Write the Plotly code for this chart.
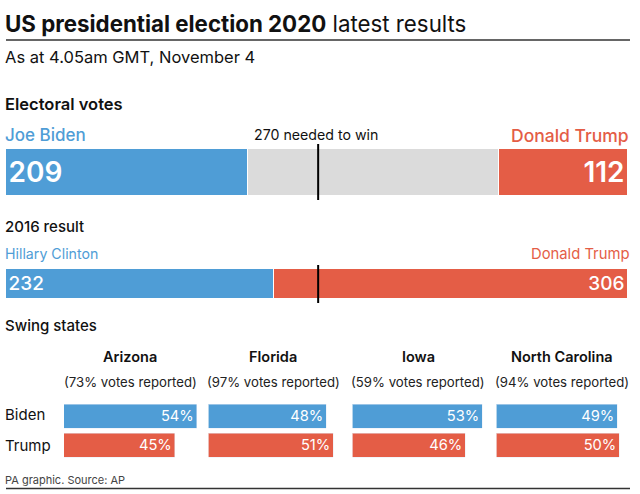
import plotly.graph_objects as go

W, H = 640, 494
BLUE, RED, GREY, INK = "#4F9DD6", "#E45D46", "#DBDBDB", "#111111"
FONT = "Inter"

elec_names = ["Joe Biden", "Undeclared", "Donald Trump"]
elec_values = [209, 217, 112]
past_names = ["Hillary Clinton", "Donald Trump"]
past_values = [232, 306]
threshold = 270
states = ["Arizona", "Florida", "Iowa", "North Carolina"]
reported = [73, 97, 59, 94]
biden_pct = [54, 48, 53, 49]
trump_pct = [45, 51, 46, 50]


def px(x):
    return x / W


def py(y):
    return 1 - y / H


fig = go.Figure()

# Electoral votes bar
for name, val, col in zip(elec_names, elec_values, [BLUE, GREY, RED]):
    show = name != "Undeclared"
    fig.add_bar(x=[val], y=[""], orientation="h", width=1, name=name, xaxis="x", yaxis="y",
                marker=dict(color=col, line=dict(color="white", width=1)),
                text=[str(val)] if show else None, textposition="inside",
                insidetextanchor="start" if name == "Joe Biden" else "end", textangle=0,
                insidetextfont=dict(color="white", size=28, family=FONT, weight=600),
                showlegend=False, hoverinfo="skip")

# 2016 result bar
for name, val, col in zip(past_names, past_values, [BLUE, RED]):
    fig.add_bar(x=[val], y=[""], orientation="h", width=1, name=name, xaxis="x2", yaxis="y2",
                marker=dict(color=col, line=dict(color="white", width=1)),
                text=[str(val)], textposition="inside",
                insidetextanchor="start" if col == BLUE else "end", textangle=0,
                insidetextfont=dict(color="white", size=19, family=FONT, weight=500),
                showlegend=False, hoverinfo="skip")

# Swing state small multiples
lefts = [64, 208.5, 352.5, 496.5]
PCT_PX = 2.46
PCT_MAX = 56
layout_axes = {}
for i, (st, b, t, left) in enumerate(zip(states, biden_pct, trump_pct, lefts)):
    xa, ya = f"x{i + 3}", f"y{i + 3}"
    for who, val, col in (("Trump", t, RED), ("Biden", b, BLUE)):
        fig.add_bar(x=[val], y=[who], orientation="h", width=0.84, name=who, xaxis=xa, yaxis=ya,
                    marker=dict(color=col),
                    text=[f"{val}%"], textposition="inside", insidetextanchor="end", textangle=0,
                    insidetextfont=dict(color="white", size=15.5, family=FONT),
                    showlegend=False, hoverinfo="skip")
    layout_axes[f"xaxis{i + 3}"] = dict(domain=[px(left), px(left + PCT_MAX * PCT_PX)],
                                        range=[0, PCT_MAX], visible=False, fixedrange=True)
    layout_axes[f"yaxis{i + 3}"] = dict(domain=[py(459.5), py(402.5)], anchor=xa, visible=False,
                                        categoryorder="array", categoryarray=["Trump", "Biden"],
                                        fixedrange=True)

fig.update_layout(
    width=W, height=H, margin=dict(l=0, r=0, t=0, b=0), autosize=False,
    paper_bgcolor="white", plot_bgcolor="white", barmode="stack", bargap=0,
    font=dict(family=FONT, color=INK),
    xaxis=dict(domain=[px(6), px(628)], range=[0, sum(elec_values)], visible=False, fixedrange=True),
    yaxis=dict(domain=[py(196), py(149)], visible=False, fixedrange=True),
    xaxis2=dict(domain=[px(6), px(628)], range=[0, sum(past_values)], visible=False, fixedrange=True),
    yaxis2=dict(domain=[py(299), py(269)], anchor="x2", visible=False, fixedrange=True),
    **layout_axes,
)

# Threshold markers
fig.add_shape(type="line", xref="x", yref="paper", x0=threshold, x1=threshold, y0=py(144), y1=py(200),
              line=dict(color="#000000", width=2), layer="above")
fig.add_shape(type="line", xref="x2", yref="paper", x0=threshold, x1=threshold, y0=py(265), y1=py(303),
              line=dict(color="#000000", width=2), layer="above")
# Rules
fig.add_shape(type="line", xref="paper", yref="paper", x0=px(6), x1=px(630), y0=py(40), y1=py(40),
              line=dict(color="#333333", width=1.5))
fig.add_shape(type="line", xref="paper", yref="paper", x0=px(6), x1=px(630), y0=py(488.5), y1=py(488.5),
              line=dict(color="#333333", width=1.5))


def note(text, x, y, size, color=INK, anchor="left", weight=None):
    fig.add_annotation(text=text, xref="paper", yref="paper", x=px(x), y=py(y), xanchor=anchor,
                       yanchor="middle", showarrow=False, align=anchor,
                       borderpad=0, borderwidth=0,
                       font=dict(size=size, color=color, family=FONT, weight=weight))


note("<b>US presidential election 2020</b> latest results", 5, 23, 22.3)
note("As at 4.05am GMT, November 4", 5, 57, 16.5)
note("Electoral votes", 5, 104, 16.5, weight=600)
note("Joe Biden", 5, 135, 17, BLUE, weight=500)
note("270 needed to win", 254, 134, 14.2)
note("Donald Trump", 629, 135, 17.5, RED, "right", 500)
note("2016 result", 5, 226, 15, weight=500)
note("Hillary Clinton", 5, 254, 14.2, BLUE)
note("Donald Trump", 629, 254, 14.8, RED, "right")
note("Swing states", 5, 325, 15, weight=500)
centres = [130, 273, 418, 562]
for st, rep, cx in zip(states, reported, centres):
    note(st, cx, 356, 14.5, anchor="center", weight=600)
    note(f"({rep}% votes reported)", cx, 382, 13.2, "#222222", "center")
note("Biden", 5, 414, 15)
note("Trump", 5, 445, 15)
note("PA graphic. Source: AP", 5, 480, 11, "#444444")

fig.write_html("out.html", config=dict(displayModeBar=False),
               post_script="document.body.style.margin='0';document.documentElement.style.overflow='hidden';")
